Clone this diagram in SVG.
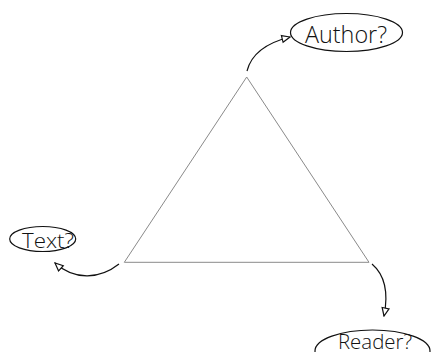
<svg xmlns="http://www.w3.org/2000/svg" width="432" height="357" viewBox="0 0 432 357">
  <style>
    .frame { fill: none; stroke: #8a8a8a; stroke-width: 1; }
    .bubble { fill: #fff; stroke: #111; stroke-width: 1.2; }
    .label { font-family: "Open Sans", "Liberation Sans", sans-serif; font-weight: 300; fill: #111; }
    .link { fill: none; stroke: #111; stroke-width: 1.2; marker-end: url(#open-head); }
  </style>
  <defs>
    <marker id="open-head" viewBox="0 0 10 10" refX="9" refY="5" markerWidth="10" markerHeight="10" markerUnits="userSpaceOnUse" orient="auto">
      <path d="M1,1.5 L9,5 L1,8.5 Z" fill="#fff" stroke="#111" stroke-width="1.2"/>
    </marker>
    <!-- the drawing area ends a few pixels above the bottom edge -->
    <clipPath id="page">
      <rect x="0" y="0" width="432" height="352"/>
    </clipPath>
  </defs>

  <!-- central triangle -->
  <g id="triangle">
    <polygon class="frame" points="246.7,77 369,262.3 124.3,262.3"/>
  </g>

  <g id="author">
    <ellipse class="bubble" cx="346.5" cy="32.5" rx="56" ry="19"/>
    <text class="label" x="305" y="43" font-size="24" textLength="82" lengthAdjust="spacingAndGlyphs">Author?</text>
  </g>

  <g id="text">
    <ellipse class="bubble" cx="42.7" cy="239" rx="33" ry="12.5"/>
    <text class="label" x="22" y="248" font-size="21" textLength="52" lengthAdjust="spacingAndGlyphs">Text?</text>
  </g>

  <g id="reader">
    <ellipse class="bubble" cx="372.5" cy="351" rx="57.5" ry="21" clip-path="url(#page)"/>
    <text class="label" x="338" y="349" font-size="21" textLength="74" lengthAdjust="spacingAndGlyphs">Reader?</text>
  </g>

  <g id="connectors">
    <path class="link" d="M247,71 C251,55 266,43 290,37"/>
    <path class="link" d="M119,264 C100,279 75,281 55,263"/>
    <path class="link" d="M372,264 C386,276 388,296 384,316"/>
  </g>
</svg>
